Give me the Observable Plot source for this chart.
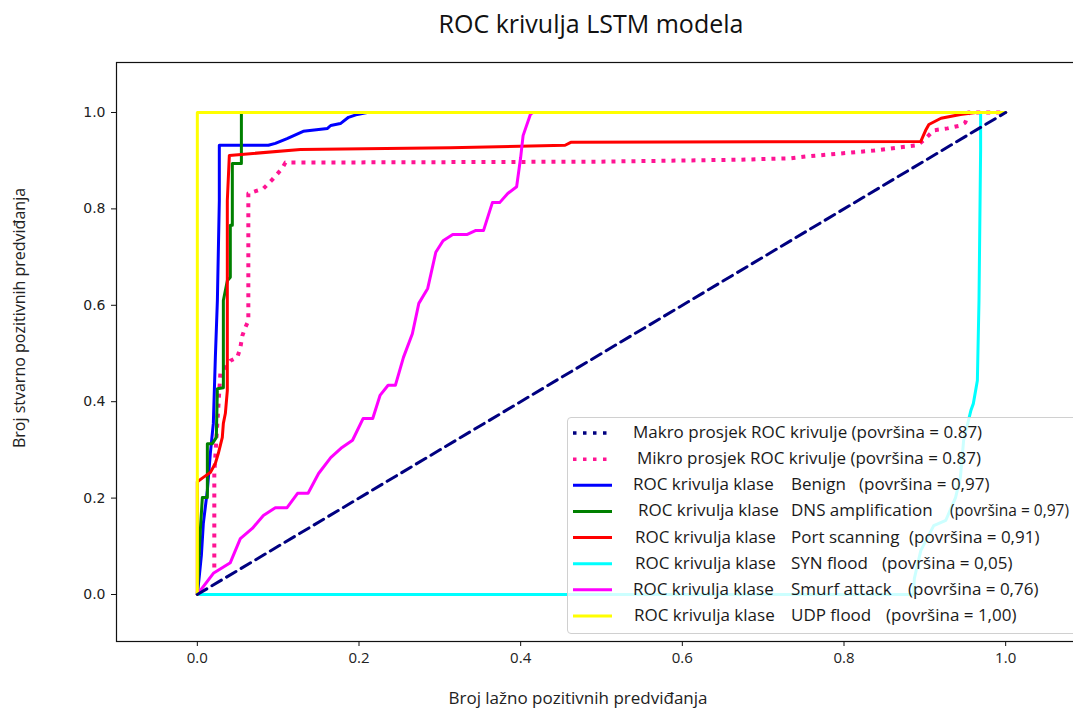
<!DOCTYPE html>
<html><head><meta charset="utf-8">
<script src="https://cdn.jsdelivr.net/npm/d3@7"></script>
<script src="https://cdn.jsdelivr.net/npm/@observablehq/plot@0.6"></script>
<style>
html,body{margin:0;padding:0;overflow:hidden;background:#fff;}
#wrap{position:relative;width:1073px;height:711px;overflow:hidden;}
#chart{position:absolute;left:0;top:0;max-width:none !important;}
.title{position:absolute;left:0;width:1182px;text-align:center;top:6px;font-family:"Open Sans";font-size:25px;color:#111;white-space:nowrap;}
.xlabel{position:absolute;left:0;width:1156px;text-align:center;top:686px;font-family:"Open Sans";font-size:17px;color:#222;white-space:nowrap;}
.ylabel{position:absolute;left:19px;top:318px;transform:translate(-50%,-50%) rotate(-90deg);font-family:"Open Sans";font-size:16px;color:#222;white-space:nowrap;}
.legend{position:absolute;left:567px;top:417px;width:530px;height:217px;border:1px solid #d0d0d0;border-radius:4px;background:rgba(255,255,255,0.8);box-sizing:border-box;}
.lt{position:absolute;font-family:"Open Sans";font-size:17px;color:#1a1a1a;white-space:nowrap;line-height:22px;}
</style></head><body>
<div id="wrap"></div>
<script>
// ---- data ----
const xTicks = [0, 0.2, 0.4, 0.6, 0.8, 1.0];
const yTicks = [0, 0.2, 0.4, 0.6, 0.8, 1.0];

const diagX = [0, 1];
const diagY = [0, 1];

const microX = [0.021,0.021,0.0285,0.0408,0.0495,0.0532,0.0557,0.0594,0.0631,0.0631,0.0817,0.094,0.105,0.109,0.499,0.672,0.734,0.755,0.796,0.837,0.866,0.891,0.901,0.911,0.928,0.944,0.95,0.953,0.954,1];
const microY = [0.056,0.251,0.459,0.485,0.492,0.512,0.537,0.554,0.568,0.832,0.842,0.863,0.884,0.896,0.898,0.902,0.905,0.909,0.915,0.921,0.927,0.932,0.946,0.963,0.967,0.973,0.979,0.994,1,1];

const benignX = [0,0.0025,0.005,0.0074,0.0124,0.0161,0.0198,0.0223,0.0248,0.0272,0.0272,0.0879,0.0965,0.111,0.131,0.161,0.165,0.177,0.187,0.198,0.21,1];
const benignY = [0,0.039,0.081,0.147,0.216,0.293,0.355,0.492,0.61,0.817,0.932,0.932,0.936,0.946,0.961,0.967,0.973,0.977,0.99,0.996,1,1];

const dnsX = [0,0.0012,0.0037,0.0062,0.0124,0.0124,0.0186,0.0235,0.0248,0.0322,0.0322,0.0371,0.0408,0.0408,0.0433,0.0433,0.0545,0.0545,1];
const dnsY = [0,0.05,0.133,0.201,0.201,0.313,0.313,0.326,0.427,0.429,0.61,0.651,0.658,0.766,0.766,0.894,0.894,1,1];

const portX = [0,0,0.0074,0.0161,0.0223,0.026,0.0309,0.0322,0.0347,0.0371,0.0371,0.0396,0.1275,0.313,0.455,0.462,0.895,0.901,0.905,0.92,0.944,0.963,1];
const portY = [0,0.234,0.243,0.253,0.272,0.293,0.326,0.355,0.376,0.423,0.817,0.911,0.923,0.927,0.932,0.938,0.94,0.963,0.975,0.988,0.996,1,1];

const synX = [0,0.886,0.887,0.895,0.911,0.926,0.938,0.944,0.948,0.957,0.96,0.965,0.967,0.969,0.969,1];
const synY = [0,0,0.033,0.091,0.143,0.154,0.201,0.243,0.32,0.382,0.396,0.444,0.61,0.921,1,1];

const smurfX = [0,0.0198,0.0408,0.0532,0.068,0.0817,0.0965,0.111,0.124,0.137,0.15,0.165,0.179,0.192,0.205,0.217,0.226,0.236,0.245,0.255,0.266,0.274,0.285,0.295,0.304,0.316,0.334,0.344,0.354,0.365,0.374,0.384,0.395,0.4,0.403,0.412,0.415,1];
const smurfY = [0,0.044,0.066,0.116,0.137,0.164,0.18,0.18,0.21,0.21,0.251,0.284,0.305,0.32,0.365,0.365,0.413,0.434,0.434,0.492,0.541,0.604,0.635,0.71,0.734,0.747,0.747,0.755,0.755,0.813,0.813,0.832,0.846,0.907,0.952,0.996,1,1];

const udpX = [0,0,1];
const udpY = [0,1,1];

const classNames = ["Benign","DNS amplification","Port scanning","SYN flood","Smurf attack","UDP flood"];
const classAreas = ["0,97","0,97","0,91","0,05","0,76","1,00"];
const classColors = ["#0000ff","#008000","#ff0000","#00ffff","#ff00ff","#ffff00"];
const avgLabels = ["Makro prosjek ROC krivulje (površina = 0.87)","Mikro prosjek ROC krivulje (površina = 0.87)"];
const avgColors = ["#000080","#ff1493"];

// ---- build ----
const toRows = (xs, ys) => xs.map((x, i) => ({x, y: ys[i]}));
const classData = [toRows(benignX,benignY), toRows(dnsX,dnsY), toRows(portX,portY), toRows(synX,synY), toRows(smurfX,smurfY), toRows(udpX,udpY)];

const marks = [
  Plot.line(toRows(microX, microY), {x:"x", y:"y", stroke: avgColors[1], strokeWidth: 4, strokeDasharray: "4,6", strokeLinecap: "butt"}),
  ...classData.map((d, i) => Plot.line(d, {x:"x", y:"y", stroke: classColors[i], strokeWidth: 3, strokeLinejoin: "round"})),
  Plot.line(toRows(diagX, diagY), {x:"x", y:"y", stroke: "#000080", strokeWidth: 3, strokeDasharray: "11,6"}),
  Plot.frame({stroke: "#111", strokeWidth: 1.2}),
  Plot.axisX({ticks: xTicks, tickFormat: d3.format(".1f"), tickSize: 5, tickPadding: 6, fontSize: 15, fontFamily: "Open Sans", label: null, stroke: "#111", fill: "#222"}),
  Plot.axisY({ticks: yTicks, tickFormat: d3.format(".1f"), tickSize: 5, tickPadding: 6, fontSize: 14, fontFamily: "DejaVu Sans", label: null, stroke: "#111", fill: "#222"})
];

const chart = Plot.plot({
  width: 1100, height: 711,
  marginLeft: 116, marginRight: 14, marginTop: 62, marginBottom: 70,
  x: {domain: [-0.1, 1.1]},
  y: {domain: [-0.0975, 1.1037]},
  style: {background: "white", color: "#222", overflow: "hidden", maxWidth: "none"},
  marks
});
chart.id = "chart";
chart.style.maxWidth = "none";
chart.setAttribute("width", 1100);
const wrap = document.getElementById("wrap");
wrap.appendChild(chart);

const mk = (cls, txt) => { const e = document.createElement("div"); e.className = cls; e.textContent = txt; wrap.appendChild(e); return e; };
mk("title", "ROC krivulja LSTM modela");
mk("xlabel", "Broj lažno pozitivnih predviđanja");
mk("ylabel", "Broj stvarno pozitivnih predviđanja");

// legend
const leg = document.createElement("div"); leg.className = "legend"; wrap.appendChild(leg);
const L = 567, T = 417, rowY0 = 433, rowStep = 26.14;
const prefixX = [633,637,633,638,635,635,633,634];
const nameX = 791;
const areaX = [859,950,909,882,908,886];
const ns = "http://www.w3.org/2000/svg";
const sw = document.createElementNS(ns, "svg");
sw.setAttribute("width", 60); sw.setAttribute("height", 217);
sw.style.position = "absolute"; sw.style.left = "0px"; sw.style.top = "0px";
leg.appendChild(sw);
const allColors = [...avgColors, ...classColors];
allColors.forEach((c, i) => {
  const cy = rowY0 + rowStep * i - T - 1;
  const ln = document.createElementNS(ns, "line");
  ln.setAttribute("x1", 572 - L); ln.setAttribute("x2", 611 - L);
  ln.setAttribute("y1", cy); ln.setAttribute("y2", cy);
  ln.setAttribute("stroke", c);
  if (i < 2) { ln.setAttribute("stroke-width", 3.5); ln.setAttribute("stroke-dasharray", "3.5,6.5"); }
  else ln.setAttribute("stroke-width", 3);
  sw.appendChild(ln);
});
const addText = (txt, x, i, size) => {
  const e = document.createElement("div"); e.className = "lt"; e.textContent = txt;
  e.style.left = (x - L - 1) + "px";
  e.style.top = (rowY0 + rowStep * i - T - 1 - 12) + "px";
  if (size) e.style.fontSize = size + "px";
  leg.appendChild(e);
};
avgLabels.forEach((t, i) => addText(t, prefixX[i], i));
classNames.forEach((n, k) => {
  const i = k + 2;
  addText("ROC krivulja klase", prefixX[i], i);
  addText(n, nameX, i);
  addText("(površina = " + classAreas[k] + ")", areaX[k], i, k === 1 ? 15.5 : null);
});
</script>
</body></html>
